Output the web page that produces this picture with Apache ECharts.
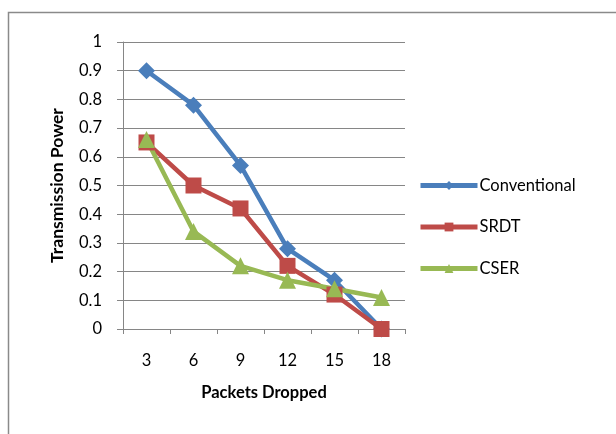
<!DOCTYPE html>
<html><head><meta charset="utf-8">
<script src="https://cdn.jsdelivr.net/npm/echarts@6/dist/echarts.min.js"></script>
<style>html,body{margin:0;padding:0;background:#fff}#c{width:616px;height:434px}</style>
</head><body><div id="c"></div>
<script>
const categories = ['3','6','9','12','15','18'];
const conventional = [0.9, 0.78, 0.57, 0.28, 0.17, 0];
const srdt = [0.65, 0.5, 0.42, 0.22, 0.12, 0];
const cser = [0.66, 0.34, 0.22, 0.17, 0.14, 0.11];
const seriesNames = ['Conventional','SRDT','CSER'];
const yTicks = [0,0.1,0.2,0.3,0.4,0.5,0.6,0.7,0.8,0.9,1];
const colors = ['#4A7EBB','#BE4B48','#98B954'];

const FONT = 'Lato, "Open Sans", sans-serif';
const chart = echarts.init(document.getElementById('c'), null, {renderer:'canvas'});
const axisGray = '#868686';
function mk(name, data, color, symbol, size){
  return {name, type:'line', data, symbol, symbolSize:size, showSymbol:true,
    lineStyle:{color, width:4.5}, itemStyle:{color, borderWidth:0},
    emphasis:{disabled:true}, animation:false, z:3};
}
chart.setOption({
  animation:false,
  graphic:[{type:'rect', shape:{x:8.5,y:12.5,width:700,height:500}, style:{fill:null, stroke:'#8a8a8a', lineWidth:1.5}, silent:true}],
  grid:{left:123, top:42, width:282, height:287, containLabel:false},
  xAxis:{type:'category', data:categories, boundaryGap:true,
    name:'Packets Dropped', nameLocation:'middle', nameGap:55,
    nameTextStyle:{fontFamily:FONT, fontSize:16.5, fontWeight:'bold', color:'#000'},
    axisLine:{lineStyle:{color:axisGray, width:1}},
    axisTick:{show:true, inside:false, length:5, alignWithLabel:false, lineStyle:{color:axisGray}},
    axisLabel:{fontFamily:FONT, fontSize:16.5, color:'#000', margin:23},
    splitLine:{show:false}},
  yAxis:{type:'value', min:0, max:1, interval:0.1,
    name:'Transmission Power', nameLocation:'middle', nameGap:57,
    nameTextStyle:{fontFamily:FONT, fontSize:17.5, fontWeight:'bold', color:'#000'},
    axisLine:{show:true, lineStyle:{color:axisGray, width:1}},
    axisTick:{show:true, inside:false, length:6, lineStyle:{color:axisGray}},
    axisLabel:{fontFamily:FONT, fontSize:16.5, color:'#000', margin:21,
      formatter:v=>{ const t = yTicks.find(x=>Math.abs(x-v)<1e-9); return t===undefined? '' : String(t); }},
    splitLine:{show:true, lineStyle:{color:axisGray, width:1}}},
  legend:{orient:'vertical', left:413, top:172, itemWidth:57, itemHeight:11, itemGap:24.5,
    data:seriesNames.map((n,i)=>({name:n, lineStyle:{width:5, color:colors[i]}})),
    textStyle:{fontFamily:FONT, fontSize:16.5, color:'#000', padding:[0,0,0,-3]},
    selectedMode:false},
  series:[
    mk(seriesNames[0], conventional, colors[0], 'diamond', 17),
    mk(seriesNames[1], srdt, colors[1], 'rect', 16),
    mk(seriesNames[2], cser, colors[2], 'triangle', 17)
  ]
});
</script></body></html>
